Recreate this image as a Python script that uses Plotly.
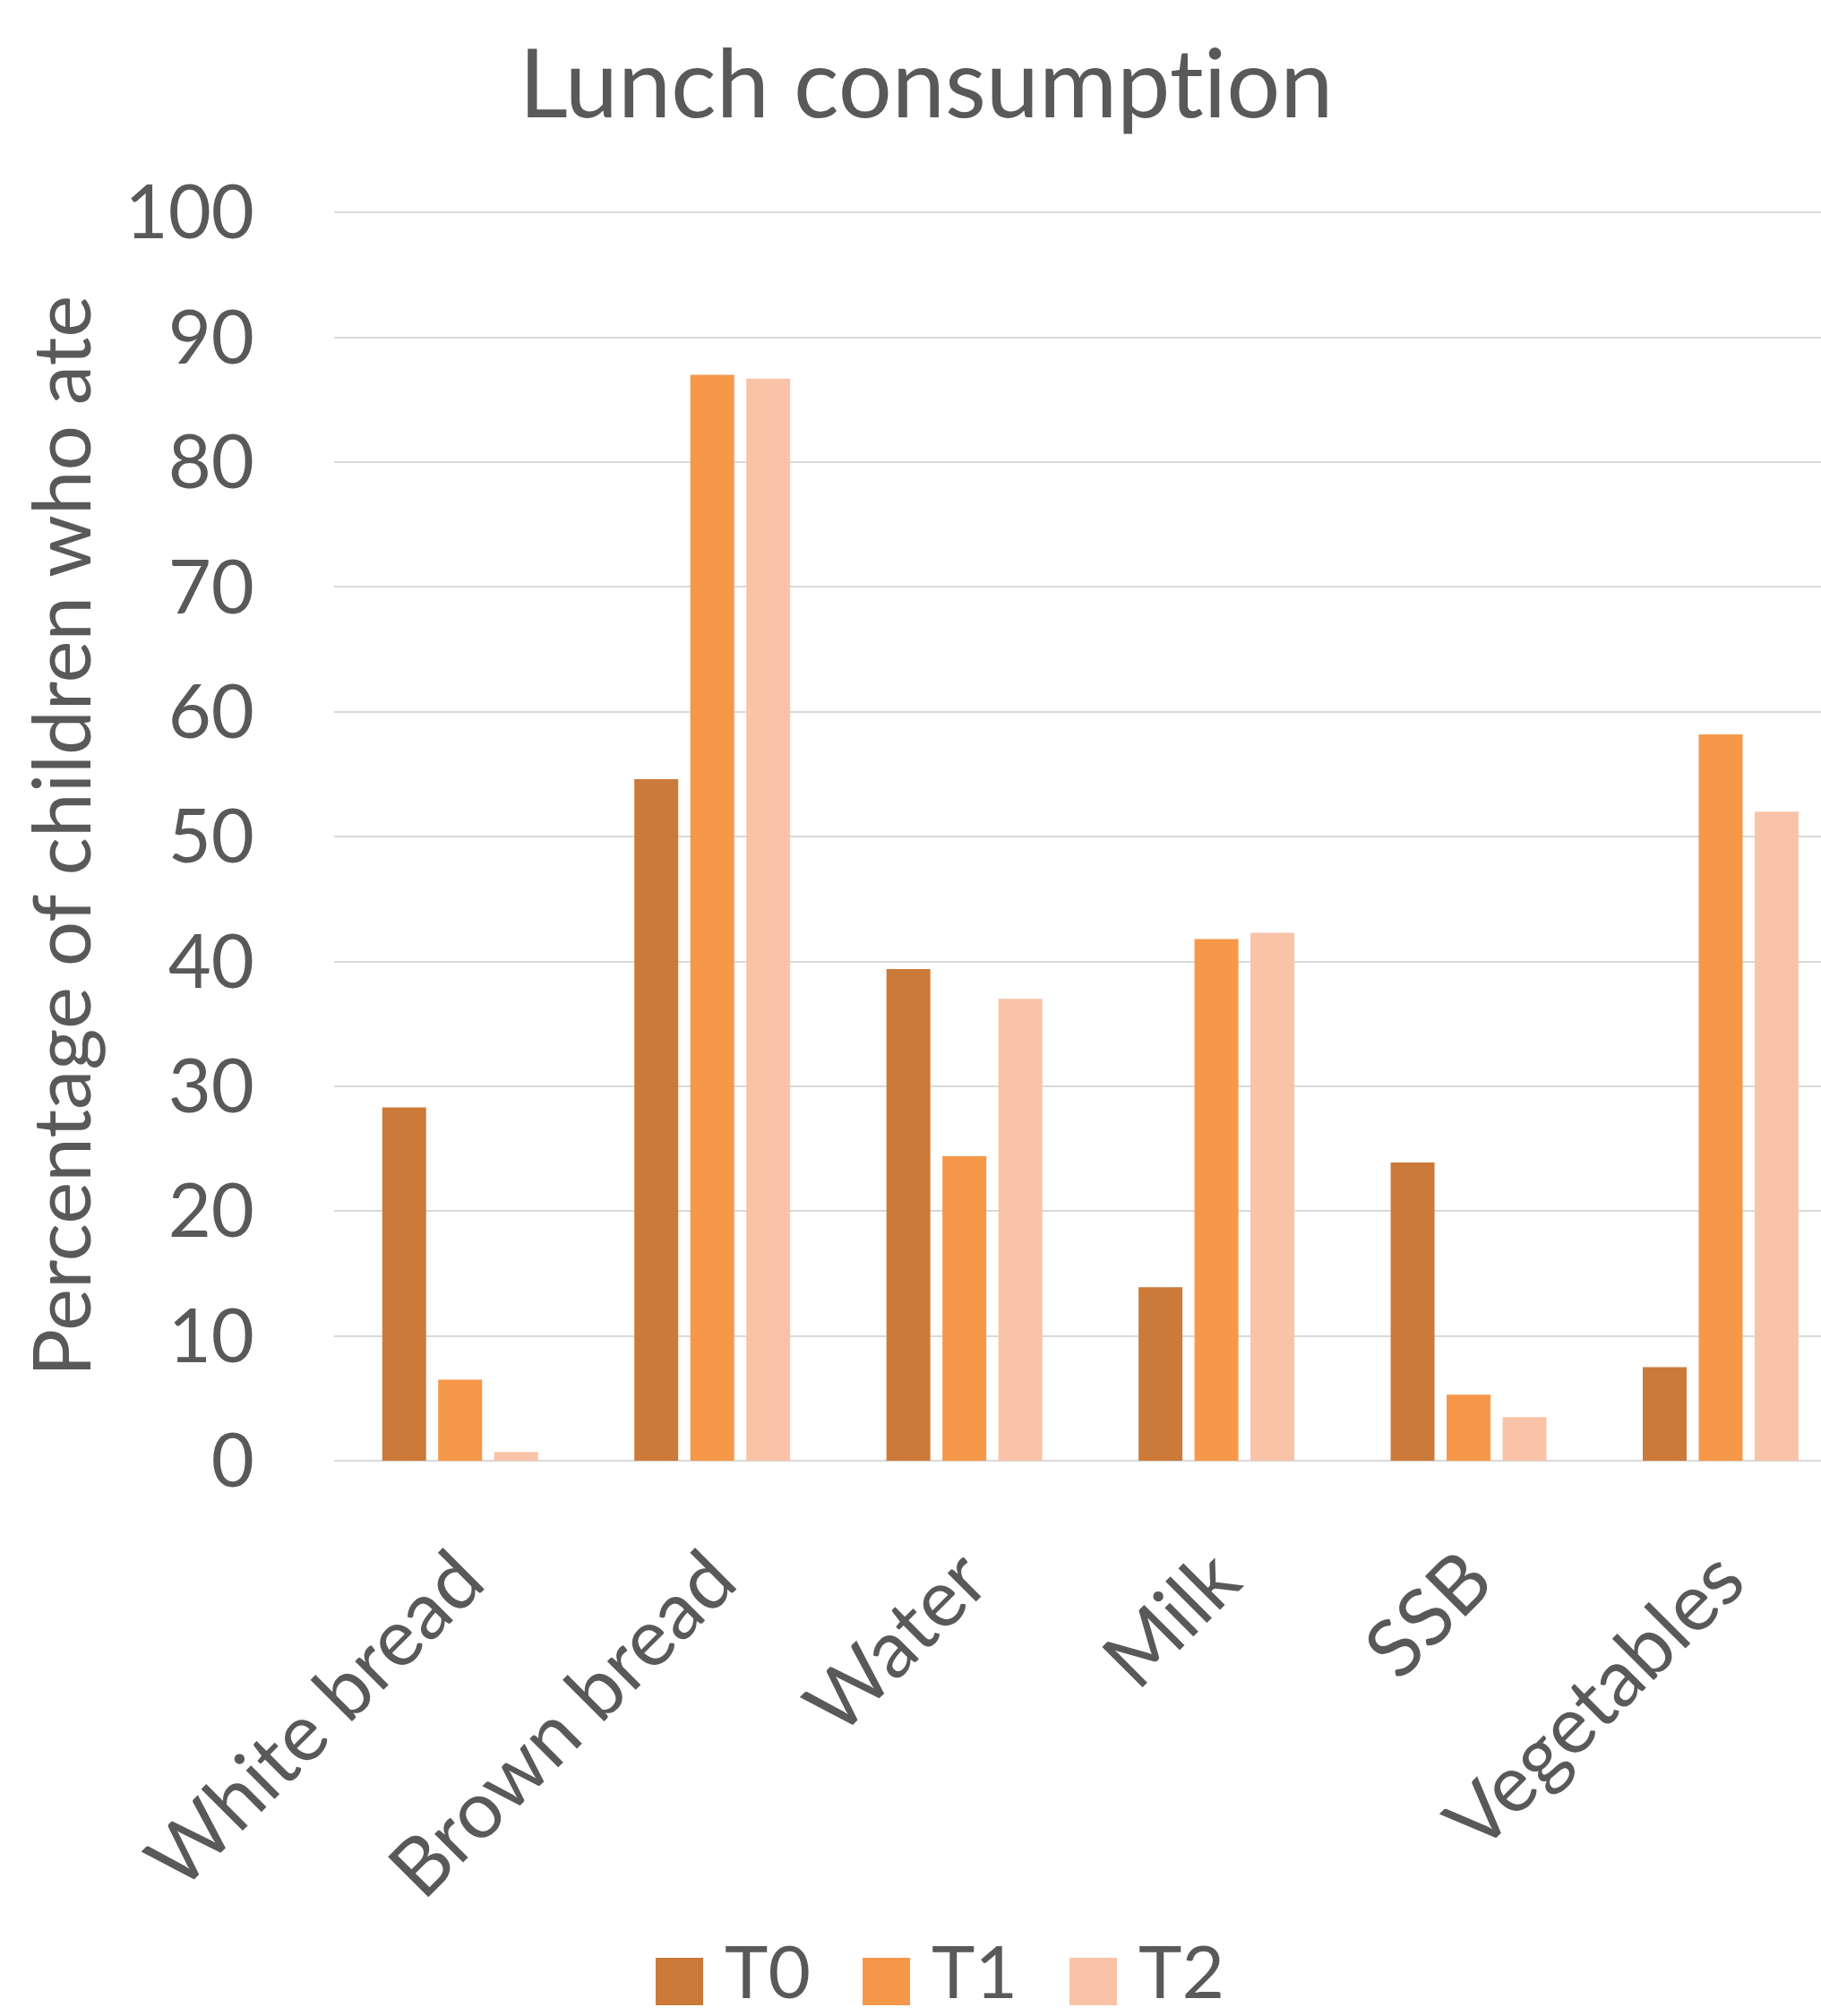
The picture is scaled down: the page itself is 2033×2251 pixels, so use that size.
import plotly.graph_objects as go

# Share of children eating each item at lunch, per measurement moment
categories = ["White bread", "Brown bread", "Water", "Milk", "SSB", "Vegetables"]
t0_values = [28.3, 54.6, 39.4, 13.9, 23.9, 7.5]
t1_values = [6.5, 87.0, 24.4, 41.8, 5.3, 58.2]
t2_values = [0.7, 86.7, 37.0, 42.3, 3.5, 52.0]
series_names = ["T0", "T1", "T2"]
y_ticks = [0, 10, 20, 30, 40, 50, 60, 70, 80, 90, 100]

colors = ["#CC7A39", "#F6974A", "#F9C3A8"]
text_color = "#595959"
grid_color = "#D9D9D9"
font_family = "Lato, 'Open Sans', sans-serif"

W, H = 2033, 2251
M_L, M_R, M_T, M_B = 373, 0, 236, 620
plot_w = W - M_L - M_R
plot_h = H - M_T - M_B
Y_MAX = 100.1  # a hair above 100 so the top gridline is drawn

fig = go.Figure()
for name, vals, col in zip(series_names, [t0_values, t1_values, t2_values], colors):
    fig.add_trace(go.Bar(
        name=name, x=categories, y=vals,
        marker=dict(color=col, line=dict(width=0)),
        showlegend=False,
    ))


def paper_x(px):
    return (px - M_L) / plot_w


def paper_y(py):
    return (H - M_B - py) / plot_h


# Legend drawn as large square swatches with labels beneath the chart
legend_x = [732, 963, 1194]
sw = 53
sw_top = 2186
shapes = []
annotations = []
for name, col, lx in zip(series_names, colors, legend_x):
    shapes.append(dict(
        type="rect", xref="paper", yref="paper",
        x0=paper_x(lx), x1=paper_x(lx + sw),
        y0=paper_y(sw_top + sw), y1=paper_y(sw_top),
        fillcolor=col, line=dict(width=0),
    ))
    annotations.append(dict(
        text=name, xref="paper", yref="paper",
        x=paper_x(lx + sw + 22), y=paper_y(H - 1),
        xanchor="left", yanchor="bottom", showarrow=False,
        font=dict(family=font_family, size=82, color=text_color),
    ))

fig.update_layout(
    width=W, height=H,
    margin=dict(l=M_L, r=M_R, t=M_T, b=M_B, autoexpand=False),
    paper_bgcolor="white", plot_bgcolor="white",
    barmode="group", bargap=0.334, bargroupgap=0.216,
    font=dict(family=font_family, color=text_color, size=82),
    title=dict(
        # zero-width non-joiner keeps "t" and "i" as separate glyphs
        text="Lunch consumpt\u200cion",
        x=1034 / W, xref="container", xanchor="center",
        y=1 - 94 / H, yref="container", yanchor="middle",
        font=dict(family=font_family, size=106, color=text_color),
    ),
    xaxis=dict(
        range=[-0.5, 5.398],
        tickangle=-45,
        tickfont=dict(family=font_family, size=89, color=text_color),
        showgrid=False, showline=False, zeroline=False,
        ticks="", ticklabelstandoff=62,
        automargin=False,
    ),
    yaxis=dict(
        range=[0, Y_MAX],
        tickvals=y_ticks,
        tickfont=dict(family=font_family, size=83, color=text_color),
        showgrid=True, gridcolor=grid_color, gridwidth=2,
        zeroline=True, zerolinecolor=grid_color, zerolinewidth=2,
        showline=False, ticks="", ticklabelstandoff=88,
        title=dict(
            text="Percentage of children who ate",
            font=dict(family=font_family, size=89, color=text_color),
            standoff=8,
        ),
        automargin=False,
    ),
    shapes=shapes,
    annotations=annotations,
)

fig.write_html("out.html")
